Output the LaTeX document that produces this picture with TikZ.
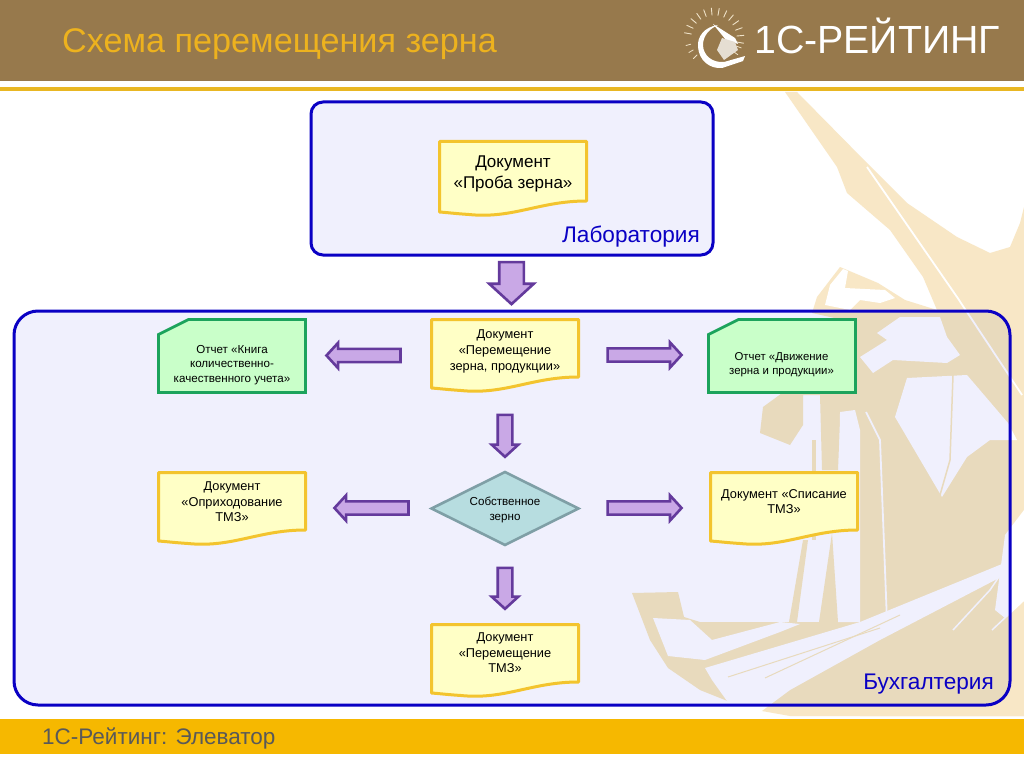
\documentclass[tikz,border=0pt]{standalone}
\usepackage{fontspec}
\setmainfont{Liberation Sans}
\usetikzlibrary{shapes.geometric,shapes.arrows}
\definecolor{hdr}{HTML}{97794C}
\definecolor{goldtxt}{HTML}{EDB21E}
\definecolor{goldln}{HTML}{E9B723}
\definecolor{barc}{HTML}{F6B800}
\definecolor{pnl}{HTML}{F0F0FD}
\definecolor{pnlb}{HTML}{0A00C4}
\definecolor{wmA}{HTML}{F8E7C6}
\definecolor{wmB}{HTML}{E8DABD}
\definecolor{docf}{HTML}{FFFFC6}
\definecolor{docb}{HTML}{F3C42E}
\definecolor{repf}{HTML}{C9FFC9}
\definecolor{repb}{HTML}{1CA35C}
\definecolor{arrf}{HTML}{C9A8E6}
\definecolor{arrb}{HTML}{643A9C}
\definecolor{dmf}{HTML}{B7DDE0}
\definecolor{dmb}{HTML}{7F9FA6}
\definecolor{ray}{HTML}{EFE2C8}
\tikzset{
  blockarrow/.style={shape=single arrow,draw=arrb,fill=arrf,line width=2.6pt,inner sep=0pt,outer sep=0pt,
    single arrow head extend=6pt,single arrow tip angle=95,single arrow head indent=0pt},
  docpath/.style={draw=docb,fill=docf,line width=3pt,line join=round},
  reppath/.style={draw=repb,fill=repf,line width=2.8pt,line join=miter},
  lbl/.style={inner sep=0pt,align=center,text=black},
}
\newcommand{\fs}[2]{\fontsize{#1}{#2}\selectfont}
\newcommand{\sh}[1]{\rule{0pt}{#1pt}}
% name, x0,y0,x1,y1 (yb = left bottom), text x,y, font, text
\newcommand{\docbox}[9]{%
  \draw[docpath] (#2,#3) -- (#4,#3) -- (#4,{#5-11})
    .. controls ({#2+0.68*(#4-#2)},{#5-11}) and ({#2+0.5*(#4-#2)},{#5+7}) .. ({#2+0.2*(#4-#2)},{#5+2.5})
    .. controls ({#2+0.1*(#4-#2)},{#5+1.5}) and ({#2+0.05*(#4-#2)},{#5+0.5}) .. (#2,#5) -- cycle;
  \node[lbl,font=#8] (#1) at (#6,#7) {#9};}
\newcommand{\repbox}[9]{%
  \draw[reppath] ({#2+30},#3) -- (#4,#3) -- (#4,#5) -- (#2,#5) -- (#2,{#3+15}) -- cycle;
  \node[lbl,font=#8] (#1) at (#6,#7) {#9};}
% watermark: #1 tan colour, #2 light colour
\newcommand{\wm}[2]{%
  \fill[#1] (785,92) -- (797,92) -- (867,163) -- (907,203) -- (957,237) -- (990,253) -- (1010,247)
    -- (1020,223) -- (1024,207) -- (1024,716) -- (860,716) -- (860,430) -- (840,420) -- (838,470)
    -- (822,470) -- (820,395) -- (803,395) -- (803,425) -- (790,445)
    -- (760,433) -- (763,407) -- (800,380) -- (855,345) -- (857,323) -- (812,313) -- (817,297)
    -- (840,267) -- (878,283) -- (905,300) -- (937,310) -- (923,277) -- (890,230) -- (847,193)
    -- (837,167) -- cycle;
  \fill[#1] (632,593) -- (678,592) -- (684,617) -- (700,622) -- (860,622) -- (1024,560) -- (1024,716)
    -- (790,716) -- (745,708) -- (700,690) -- (668,668) -- (650,640) -- cycle;
  \fill[#1] (832,533) -- (819,622) -- (838,622) -- cycle;
  \fill[#1] (803,540) -- (789,622) -- (797,622) -- (808,540) -- cycle;
  \fill[#1] (812,440) -- (812,540) -- (816,540) -- (816,440) -- cycle;
  % light parts
  \fill[#2] (830,285) -- (843,269) -- (848,271) -- (845,288) -- (885,290) -- (895,298) -- (880,303)
    -- (860,300) -- (850,310) -- (825,305) -- cycle;
  \fill[#2] (877,333) -- (900,317) -- (940,317) -- (947,337) -- (960,355) -- (947,363) -- (893,360)
    -- (873,373) -- (860,357) -- (887,340) -- cycle;
  \fill[#2] (907,378) -- (967,375) -- (1008,423) -- (1017,440) -- (990,440) -- (967,457) -- (942,497)
    -- (895,417) -- cycle;
  \fill[#2] (1024,510) -- (1005,535) -- (995,610) -- (1005,618) -- (1024,600) -- cycle;
  \draw[#1,line width=1.5pt] (953,375) -- (950,460) -- (940,495);
  \draw[#2,line width=1.8pt] (867,167) -- (957,297) -- (1022,395);
  \draw[#2,line width=1.8pt] (866,412) -- (880,440) -- (887,622);
  \fill[#2] (840,412) -- (855,410) -- (860,430) -- (860,622) -- (838,622) -- cycle;
  \fill[#2] (653,618) -- (690,620) -- (712,640) -- (780,622) -- (800,624) -- (780,632) -- (705,660)
    -- (668,656) -- cycle;
  \fill[#2] (705,668) -- (860,622) -- (1024,555) -- (1024,565) -- (880,640) -- (790,690)
    -- (755,716) -- (732,708) -- (712,680) -- cycle;
  \draw[#1,line width=1pt] (728,677) -- (880,628);
  \draw[#1,line width=1pt] (765,678) -- (900,615);
  \draw[#2,line width=1.5pt] (953,630) -- (990,590) -- (1024,540);
  \draw[#2,line width=1.5pt] (992,630) -- (1024,600);
}
\begin{document}
\begin{tikzpicture}[x=1pt,y=-1pt]
\useasboundingbox (0,0) rectangle (1024,767);
\fill[white] (0,0) rectangle (1024,767);
% watermark, outside the panels
\wm{wmA}{white}
% panels
\fill[pnl,rounded corners=12pt] (311,102) rectangle (713,255);
\fill[pnl,rounded corners=24pt] (14,311) rectangle (1010,705);
\begin{scope}
  \clip[rounded corners=24pt] (14,311) rectangle (1010,705);
  \wm{wmB}{pnl}
\end{scope}
\draw[pnlb,line width=3pt,rounded corners=12pt] (311,102) rectangle (713,255);
\draw[pnlb,line width=3pt,rounded corners=24pt] (14,311) rectangle (1010,705);
% header and footer
\fill[hdr] (0,0) rectangle (1024,81.5);
\fill[goldln] (0,87) rectangle (1024,91);
\fill[barc] (0,719) rectangle (1024,754);
\fill[white] (0,754) rectangle (1024,767);
\node[anchor=base west,inner sep=0pt,text=goldtxt,font=\fs{34.2}{40}] (title) at (62,52.5) {Схема перемещения зерна};
\node[anchor=base west,inner sep=0pt,text=white,font=\fs{39.3}{46}] (brand) at (754,54) {1С-РЕЙТИНГ};
\node[anchor=base west,inner sep=0pt,text=black!65,font=\fs{22.5}{26}] (foot) at (42,744) {1С-Рейтинг: Элеватор};
% logo
\foreach \a in {-170,-155,...,10}{
  \draw[ray,line width=.9pt,line cap=round] (714,38)+(\a:23) -- +(\a:30);}
\foreach \a in {20,35,...,45,135,150,165}{
  \draw[ray,line width=.8pt,line cap=round] (714,38)+(\a:24) -- +(\a:29);}
\fill[white] (718,25) .. controls (704,27) and (697,37) .. (698,47) .. controls (699,60) and (709,69) .. (722,68)
  -- (743,61) -- (745,56) -- (724,62) .. controls (712,63) and (703,55) .. (703,45)
  .. controls (703,36) and (709,29) .. (718,25) -- cycle;
\fill[white] (713,24) -- (735,38) -- (738,44) -- (726,40) -- cycle;
\fill[white!75!hdr] (722,38) -- (735,42) -- (738,50) -- (724,60) -- (717,50) -- cycle;
% labels
\node[anchor=base east,inner sep=0pt,text=pnlb,font=\fs{22.6}{26}] (lab) at (700,243) {Лаборатория};
\node[anchor=base east,inner sep=0pt,text=pnlb,font=\fs{22.6}{26}] (buh) at (994,689) {Бухгалтерия};
% documents
\docbox{dProba}{439.5}{141.5}{586.5}{212}{513}{173.5}{\fs{17}{21}}{Документ\\«Проба зерна»}
\docbox{dPerem}{431.5}{319.5}{578.5}{388}{505}{351}{\fs{12.8}{16}}{Документ\\«Перемещение\\зерна, продукции»}
\docbox{dOprih}{158.5}{472.5}{305.5}{541}{232}{502}{\fs{12.8}{15.5}}{Документ\\«Оприходование\\ТМЗ»}
\docbox{dSpis}{710.5}{472.5}{857.5}{541}{784}{501.5}{\fs{12.8}{15.5}}{Документ «Списание\\ТМЗ»}
\docbox{dTmz}{431.5}{624.5}{578.5}{693}{505}{653}{\fs{12.8}{15.5}}{Документ\\«Перемещение\\ТМЗ»}
% reports
\repbox{rKniga}{158.5}{319.5}{305.5}{392.5}{232}{365}{\fs{11.6}{14.6}}{Отчет «Книга\\количественно-\\качественного учета»}
\repbox{rDvizh}{708.5}{319.5}{855.5}{392.5}{781.5}{365}{\fs{11.4}{14}}{Отчет «Движение\\зерна и продукции»}
% decision
\node[shape=diamond,aspect=2,draw=dmb,fill=dmf,line width=2.6pt,minimum width=148pt,minimum height=74pt,inner sep=0pt] (own) at (505,508.5) {};
\node[lbl,font=\fs{11.6}{14.2}] (ownt) at (505,510) {Собственное\\зерно};
% arrows
\node[blockarrow,minimum height=42pt,single arrow head extend=10pt,rotate=-90] (a0) at (511.5,277.5) {\sh{22}};
\node[blockarrow,minimum height=74pt,rotate=180] (a1) at (366.5,355.5) {\sh{10.7}};
\node[blockarrow,minimum height=74pt] (a2) at (641.5,355) {\sh{10.7}};
\node[blockarrow,minimum height=42pt,rotate=-90] (a3) at (505,432.5) {\sh{12}};
\node[blockarrow,minimum height=74pt,rotate=180] (a4) at (374.5,508) {\sh{10.7}};
\node[blockarrow,minimum height=74pt] (a5) at (641.5,508) {\sh{10.7}};
\node[blockarrow,minimum height=41pt,rotate=-90] (a6) at (505,585) {\sh{12}};
\end{tikzpicture}
\end{document}
